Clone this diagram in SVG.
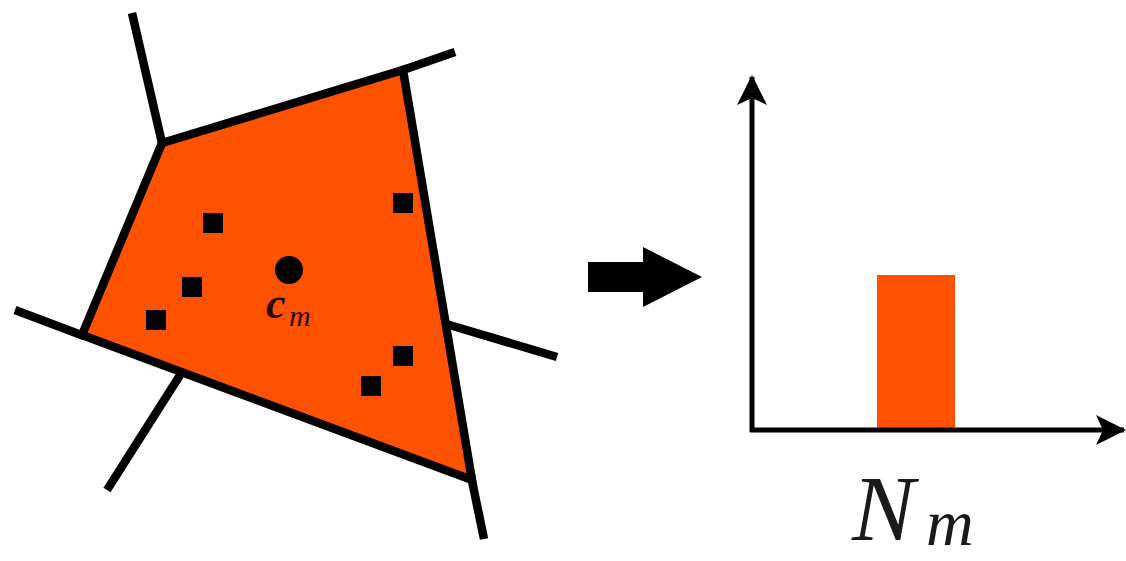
<svg xmlns="http://www.w3.org/2000/svg" width="1126" height="561" viewBox="0 0 1126 561">
<style>
.edge{stroke:#000;stroke-width:8.5;fill:none;stroke-linecap:butt}
.cell{fill:#FF5200;stroke:#000;stroke-width:8.5;stroke-linejoin:miter}
.pt{fill:#000}
.axis{stroke:#000;stroke-width:5;fill:none}
.math{font-family:"Liberation Serif","DejaVu Serif",serif;font-style:italic}
</style>
<defs>
<marker id="ah" viewBox="0 0 30 30" refX="28" refY="15" markerWidth="30" markerHeight="30" markerUnits="userSpaceOnUse" orient="auto">
<path d="M30,15 L0,0 L7,15 L0,30 Z" fill="#000"/>
</marker>
</defs>
<g id="voronoi">
<polygon class="cell" points="162,143 403,70 472,480 82,335"/>
<g id="edges">
<line class="edge" x1="132" y1="13" x2="162" y2="143"/>
<line class="edge" x1="400" y1="71" x2="455" y2="52"/>
<line class="edge" x1="15" y1="310" x2="84" y2="336"/>
<line class="edge" x1="182" y1="372" x2="107" y2="490"/>
<line class="edge" x1="446" y1="324" x2="557" y2="357"/>
<line class="edge" x1="471" y1="476" x2="484" y2="539"/>
</g>
<g id="points">
<rect class="pt" x="203" y="213" width="20" height="20"/>
<rect class="pt" x="393" y="193" width="20" height="20"/>
<rect class="pt" x="182" y="277" width="20" height="20"/>
<rect class="pt" x="146" y="310" width="20" height="20"/>
<rect class="pt" x="393" y="346" width="20" height="20"/>
<rect class="pt" x="361" y="376" width="20" height="20"/>
</g>
<g id="centroid">
<circle cx="289" cy="270" r="14" fill="#000"/>
<text class="math" x="266" y="318" font-size="44" font-weight="bold" fill="#2a0a00">c</text>
<text class="math" x="289" y="326" font-size="30" fill="#2a0a00">m</text>
</g>
</g>
<g id="transition">
<polygon points="588,262 643,262 643,247 702,277 643,307 643,292 588,292" fill="#000"/>
</g>
<g id="histogram">
<rect x="877" y="275" width="78" height="155" fill="#FF5200"/>
<g id="axes">
<line class="axis" x1="752" y1="432" x2="752" y2="77" marker-end="url(#ah)"/>
<line class="axis" x1="750" y1="430" x2="1124" y2="430" marker-end="url(#ah)"/>
</g>
<text class="math" x="852" y="540" font-size="94" fill="#1a1a1a">N</text>
<text class="math" x="926" y="545" font-size="66" fill="#1a1a1a">m</text>
</g>
</svg>
